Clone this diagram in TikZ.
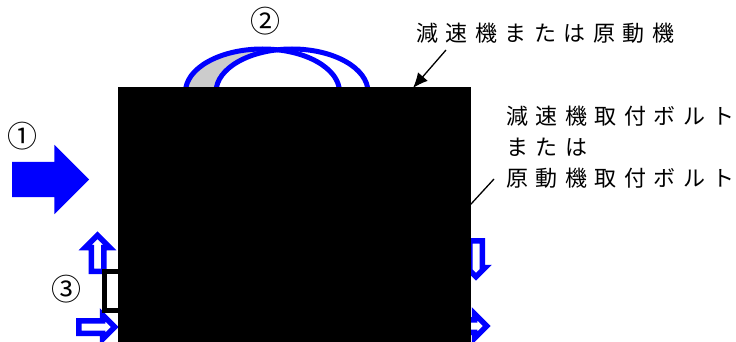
\documentclass[tikz,border=0pt]{standalone}
\usepackage{fontspec}
\usepackage{tikz}
\usetikzlibrary{arrows.meta, shapes.arrows}
\setmainfont{Noto Sans CJK JP}
\newfontfamily\spacedjp[LetterSpace=34]{Noto Sans CJK JP}
\definecolor{PureBlue}{RGB}{0, 0, 255}
\definecolor{LiteGray}{RGB}{204, 204, 204}
\tikzset{%
  housing/.style={%
    rectangle,%
    fill=black,%
    inner sep=0pt,%
    minimum width=353pt,%
    minimum height=255pt,%
    anchor=north west%
  },
  part_label/.style={%
    inner sep=0pt,%
    anchor=west,%
    align=left,%
    font={\spacedjp\fontsize{22}{31}\selectfont}%
  },
  step_label/.style={%
    inner sep=0pt,%
    font={\fontsize{30}{30}\selectfont}%
  },
  flow_arrow/.style={%
    single arrow,%
    fill=PureBlue,%
    anchor=tail,%
    inner xsep=0pt,%
    inner ysep=17.5pt,%
    minimum height=77pt,%
    single arrow head extend=17pt,%
    single arrow tip angle=90%
  },
  hollow_arrow/.style={%
    single arrow,%
    draw=PureBlue,%
    fill=white,%
    line width=5.5pt,%
    anchor=tail,%
    inner xsep=0pt,%
    inner ysep=3.5pt,%
    minimum height=36pt,%
    single arrow head extend=6pt,%
    single arrow tip angle=90%
  },
  hollow_upright/.style={%
    hollow_arrow,%
    inner xsep=3.5pt,%
    inner ysep=0pt%
  },
  wave_path/.style={%
    draw=PureBlue,%
    line width=5pt%
  },
  bracket_path/.style={%
    draw=black,%
    line width=5pt%
  },
  leader/.style={%
    draw=black,%
    line width=1.3pt%
  },
  arrow/.style={-{Latex[length=15pt, width=13pt]}},
}
\begin{document}
\begin{tikzpicture}[x=1pt, y=-1pt]
  \useasboundingbox (0, 0) rectangle (736, 342);

  \path [fill=LiteGray] (262.5, 92) ellipse [x radius=77, y radius=43];
  \path [fill=white] (292, 92) ellipse [x radius=76, y radius=43];
  \path [wave_path] (262.5, 92) ellipse [x radius=77, y radius=43];
  \path [wave_path] (292, 92) ellipse [x radius=76, y radius=43];

  \node [flow_arrow] (Flow) at (12, 179.5) {};
  \node [hollow_upright, shape border rotate=90] (Lift) at (97.5, 274) {};
  \node [hollow_upright, shape border rotate=270, single arrow head extend=3pt] (Drop) at (476, 238) {};
  \node [hollow_arrow] (PushLeft) at (76, 327) {};
  \node [hollow_arrow] (PushRight) at (448, 326) {};

  \node [step_label] (One) at (22.5, 136) {①};
  \node [step_label] (Two) at (265, 21) {②};
  \node [step_label] (Three) at (66.5, 289) {③};

  \node [part_label] (Reducer) at (416, 33) {減速機または原動機};
  \node [part_label] (Bolt) at (506, 147)
    {減速機取付ボルト\\または\\原動機取付ボルト};

  \coordinate (bolt_end) at (494, 179);
  \coordinate (bolt_root) at (460, 216);
  \coordinate (reducer_end) at (446, 50);
  \coordinate (reducer_root) at (413, 88);
  \coordinate (bracket_top) at (118, 271);
  \coordinate (bracket_bottom) at (118, 310);

  \path [leader] (bolt_end) -- (bolt_root);
  \path [bracket_path]
    (bracket_top) -- (104, 271) -- (104, 310) -- (bracket_bottom);

  \node [housing] (Housing) at (118, 87) {};

  \path [leader, arrow] (reducer_end) -- (reducer_root);
\end{tikzpicture}
\end{document}
